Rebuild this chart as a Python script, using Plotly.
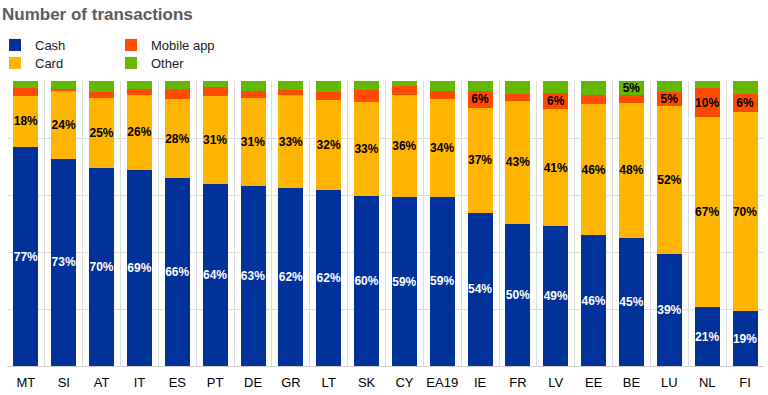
import plotly.graph_objects as go

countries = ["MT", "SI", "AT", "IT", "ES", "PT", "DE", "GR", "LT", "SK",
             "CY", "EA19", "IE", "FR", "LV", "EE", "BE", "LU", "NL", "FI"]
cash = [76.8, 72.8, 69.6, 68.9, 65.8, 63.9, 63.2, 62.3, 61.6, 59.8,
        59.3, 59.4, 53.8, 50.0, 49.2, 45.9, 44.8, 39.2, 20.6, 19.2]
card = [18.1, 23.7, 24.6, 26.3, 27.9, 30.9, 30.8, 32.9, 31.7, 33.0,
        35.7, 34.3, 36.9, 43.1, 40.9, 46.0, 47.6, 52.1, 66.6, 69.9]
mobile = [2.8, 0.7, 2.0, 2.0, 3.5, 3.2, 2.5, 1.8, 3.0, 3.9,
          3.2, 2.9, 5.8, 2.2, 5.8, 3.3, 2.8, 5.0, 10.3, 6.2]
other = [2.3, 2.8, 3.8, 2.8, 2.8, 2.0, 3.5, 3.0, 3.7, 3.3,
         1.8, 3.4, 3.5, 4.7, 4.1, 4.8, 4.9, 3.7, 2.5, 4.7]
mobile_labels = ["", "", "", "", "", "", "", "", "", "",
                 "", "", "6%", "", "6%", "", "", "5%", "10%", "6%"]
other_labels = ["", "", "", "", "", "", "", "", "", "",
                "", "", "", "", "", "", "5%", "", "", ""]

FONT = "Liberation Sans, Arial, sans-serif"
lblfont = dict(family=FONT, size=12, color="#000000", weight="bold")

common = dict(textposition="inside", insidetextanchor="middle",
              constraintext="none", textangle=0, marker_line_width=0)

fig = go.Figure()
fig.add_trace(go.Bar(x=countries, y=cash, name="Cash", marker_color="#003299",
                     texttemplate="%{y:.0f}%",
                     insidetextfont=dict(family=FONT, size=12, color="#ffffff", weight="bold"),
                     legend="legend", **common))
fig.add_trace(go.Bar(x=countries, y=card, name="Card", marker_color="#FFB400",
                     texttemplate="%{y:.0f}%", insidetextfont=lblfont,
                     legend="legend2", **common))
fig.add_trace(go.Bar(x=countries, y=mobile, name="Mobile app", marker_color="#FF4B00",
                     text=mobile_labels, texttemplate="%{text}", insidetextfont=lblfont,
                     legend="legend3", **common))
fig.add_trace(go.Bar(x=countries, y=other, name="Other", marker_color="#65B800",
                     text=other_labels, texttemplate="%{text}", insidetextfont=lblfont,
                     legend="legend4", **common))

H = 395.0
PW = 757.0


def px_x(px):
    return (px - 7) / PW


legend_common = dict(orientation="v", xref="paper", yref="container",
                     xanchor="left", yanchor="top", bgcolor="rgba(0,0,0,0)",
                     font=dict(family=FONT, size=13, color="#1a1a1a"),
                     itemwidth=30, tracegroupgap=0, itemclick=False)

fig.update_layout(
    width=768, height=395,
    margin=dict(l=7, r=4, t=81, b=29, autoexpand=False),
    barmode="stack", bargap=0.34,
    plot_bgcolor="white", paper_bgcolor="white",
    font=dict(family=FONT, size=13, color="#000000"),
    annotations=[dict(text="<b>Number of transactions</b>", xref="paper", yref="paper",
                      x=px_x(0), y=(366 - 15) / 285, xanchor="left", yanchor="middle",
                      showarrow=False,
                      font=dict(family=FONT, size=17, color="#5b5b5b"))],
    legend=dict(x=px_x(-5), y=1 - 30 / H, **legend_common),
    legend2=dict(x=px_x(-5), y=1 - 48 / H, **legend_common),
    legend3=dict(x=px_x(111), y=1 - 30 / H, **legend_common),
    legend4=dict(x=px_x(111), y=1 - 48 / H, **legend_common),
    showlegend=True,
    xaxis=dict(tickson="boundaries", showgrid=True, gridcolor="#dcdcdc",
               gridwidth=1, ticks="", showline=True, linecolor="#d0d0d0",
               tickangle=0, ticklabelstandoff=4,
               tickfont=dict(family=FONT, size=13, color="#000000")),
    yaxis=dict(range=[0, 100], dtick=20, showgrid=True, gridcolor="#dcdcdc",
               showticklabels=False, zeroline=False, ticks=""),
)

fig.write_html("out.html", config={"displayModeBar": False},
               post_script="document.body.style.margin='0';document.body.style.padding='0';")
